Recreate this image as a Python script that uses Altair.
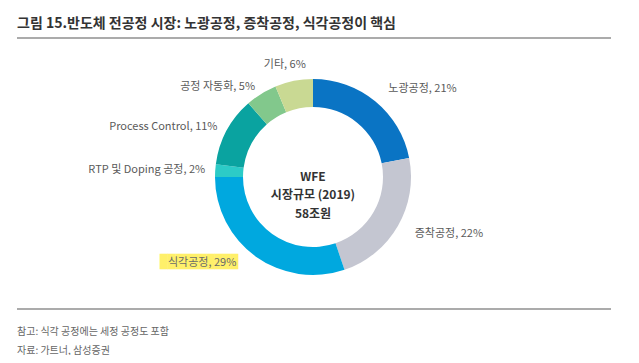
import altair as alt
import pandas as pd

# ---- data ----
categories = ["노광공정", "증착공정", "식각공정", "RTP 및 Doping 공정", "Process Control", "공정 자동화", "기타"]
shares = [21, 22, 29, 2, 11, 5, 6]
labels = ["노광공정, 21%", "증착공정, 22%", "식각공정, 29%", "RTP 및 Doping 공정, 2%",
          "Process Control, 11%", "공정 자동화, 5%", "기타, 6%"]
colors = ["#0a74c4", "#c4c6d1", "#00a8df", "#2ccbc7", "#0aa3a0", "#82c88c", "#c9d993"]

title_text = "그림 15.반도체 전공정 시장: 노광공정, 증착공정, 식각공정이 핵심"
center_lines = ["WFE", "시장규모 (2019)", "58조원"]
notes = ["참고: 식각 공정에는 세정 공정도 포함", "자료: 가트너, 삼성증권"]

df = pd.DataFrame({"cat": categories, "value": shares, "label": labels,
                   "idx": list(range(len(categories)))})

FONT = "Noto Sans CJK KR"
CX, CY = 305, 169

theta = alt.Theta("value:Q", stack=True)
order = alt.Order("idx:Q", sort="ascending")

arcs = alt.Chart(df).mark_arc(innerRadius=70, outerRadius=98).encode(
    theta=theta,
    order=order,
    color=alt.Color("cat:N", scale=alt.Scale(domain=categories, range=colors), legend=None),
    x=alt.value(CX), y=alt.value(CY),
)

def label_layer(cats, radius, align, dx=0, dy=0, text_field="label:N", **kw):
    test = " || ".join([f"datum.cat === '{c}'" for c in cats])
    props = dict(font=FONT, fontSize=11)
    props.update(kw)
    return alt.Chart(df).mark_text(radius=radius, align=align, baseline="middle", dx=dx, dy=dy,
                                   **props).encode(
        theta=theta,
        order=order,
        x=alt.value(CX), y=alt.value(CY),
        text=alt.condition(test, text_field, alt.value("")),
    )

GREY = "#5a5a5a"
right = label_layer(["노광공정", "증착공정"], 114, "left", dx=3, color=GREY)
left = label_layer(["RTP 및 Doping 공정", "Process Control", "공정 자동화"], 106, "right", dx=-2, color=GREY)
top = label_layer(["기타"], 114, "center", dx=-6, color=GREY)

# yellow highlighter box behind the etch label (drawn with block glyphs)
df["hlbox"] = "\u2588" * 10
hl = label_layer(["식각공정"], 106, "right", dx=-13, dy=-1, text_field="hlbox:N",
                 font="DejaVu Sans Mono", fontSize=13, color="#fff06a")
etch = label_layer(["식각공정"], 106, "right", dx=-15, color="#6a6a6a")

one = alt.Data(values=[{}])

center = alt.Chart(one).mark_text(font=FONT, fontSize=12, fontWeight="bold", color="#333333",
                                  align="center", baseline="middle", lineHeight=18.5).encode(
    x=alt.value(CX), y=alt.value(168.5), text=alt.value(center_lines))

title = alt.Chart(one).mark_text(font=FONT, fontSize=14, fontWeight="bold", color="#333333",
                                 align="left", baseline="middle").encode(
    x=alt.value(9), y=alt.value(16), text=alt.value(title_text))

rule_top = alt.Chart(one).mark_rule(color="#ababab", strokeWidth=2).encode(
    x=alt.value(9), x2=alt.value(603), y=alt.value(30))
rule_bot = alt.Chart(one).mark_rule(color="#ababab", strokeWidth=2).encode(
    x=alt.value(9), x2=alt.value(603), y=alt.value(301))

foot = alt.Chart(one).mark_text(font=FONT, fontSize=10, color="#666666",
                                align="left", baseline="middle", lineHeight=19).encode(
    x=alt.value(9), y=alt.value(323.5), text=alt.value(notes))

chart = alt.layer(arcs, hl, right, left, top, etch, center, title, rule_top, rule_bot, foot).properties(
    width=623, height=347, autosize=alt.AutoSizeParams(type="none"), padding=0,
    background="white",
).configure_view(stroke=None)

chart.save("out.html", embed_options={"renderer": "svg", "actions": False})
